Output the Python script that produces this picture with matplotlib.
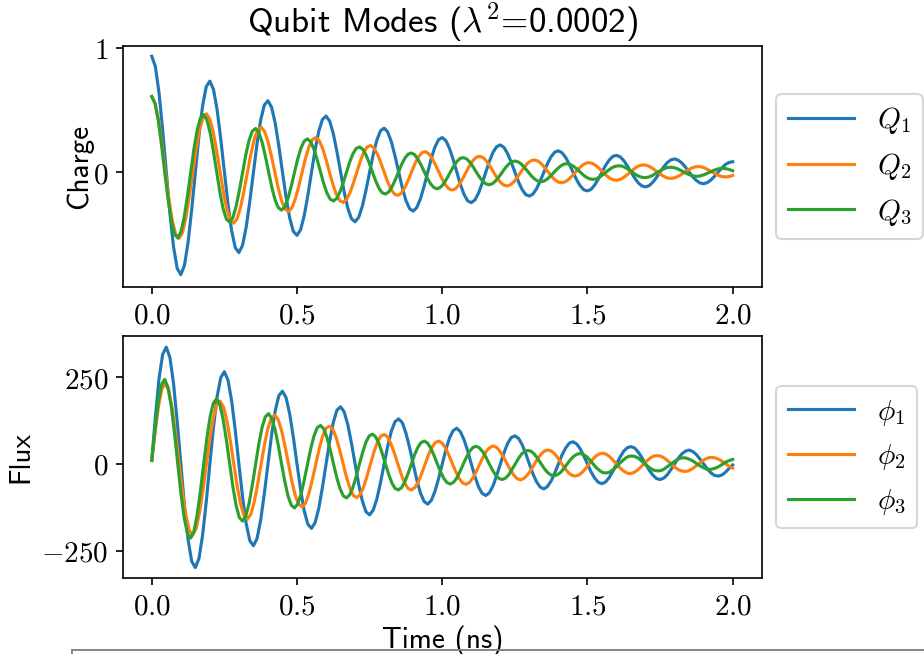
import numpy as np
import matplotlib as m
m.use('Agg')
import matplotlib.pyplot as plt
from matplotlib.ticker import FuncFormatter
from matplotlib.patches import Rectangle

charge_q1 = [
    0.935, 0.851, 0.641, 0.342, 0.0, -0.332, -0.604, -0.777, -0.828, -0.754, -0.568, -0.303, 0.0, 0.294, 0.535, 0.689,
    0.734, 0.668, 0.504, 0.268, 0.0, -0.260, -0.474, -0.610, -0.650, -0.592, -0.446, -0.238, 0.0, 0.231, 0.420, 0.541,
    0.576, 0.524, 0.395, 0.211, 0.0, -0.204, -0.372, -0.479, -0.511, -0.465, -0.350, -0.187, 0.0, 0.181, 0.330, 0.424,
    0.452, 0.412, 0.310, 0.165, 0.0, -0.161, -0.292, -0.376, -0.401, -0.365, -0.275, -0.147, 0.0, 0.142, 0.259, 0.333,
    0.355, 0.323, 0.244, 0.130, 0.0, -0.126, -0.229, -0.295, -0.315, -0.286, -0.216, -0.115, 0.0, 0.112, 0.203, 0.262,
    0.279, 0.254, 0.191, 0.102, 0.0, -0.099, -0.180, -0.232, -0.247, -0.225, -0.170, -0.090, 0.0, 0.088, 0.160, 0.205,
    0.219, 0.199, 0.150, 0.080, 0.0, -0.078, -0.141, -0.182, -0.194, -0.177, -0.133, -0.071, 0.0, 0.069, 0.125, 0.161,
    0.172, 0.156, 0.118, 0.063, 0.0, -0.061, -0.111, -0.143, -0.152, -0.139, -0.104, -0.056, 0.0, 0.054, 0.098, 0.127,
    0.135, 0.123, 0.093, 0.049, 0.0, -0.048, -0.087, -0.112, -0.120, -0.109, -0.082, -0.044, 0.0, 0.042, 0.077, 0.099,
    0.106, 0.096, 0.073, 0.039, 0.0, -0.038, -0.068, -0.088, -0.094, -0.085, -0.064, -0.034, 0.0, 0.033, 0.061, 0.078,
    0.083]

charge_q2 = [
    0.610, 0.554, 0.417, 0.222, 0.0, -0.215, -0.391, -0.503, -0.535, -0.487, -0.366, -0.195, 0.0, 0.189, 0.343, 0.441,
    0.470, 0.427, 0.322, 0.171, 0.0, -0.166, -0.301, -0.387, -0.412, -0.375, -0.282, -0.150, 0.0, 0.145, 0.264, 0.340,
    0.362, 0.329, 0.248, 0.132, 0.0, -0.128, -0.232, -0.298, -0.318, -0.289, -0.217, -0.116, 0.0, 0.112, 0.204, 0.262,
    0.279, 0.253, 0.191, 0.102, 0.0, -0.098, -0.179, -0.230, -0.245, -0.222, -0.167, -0.089, 0.0, 0.086, 0.157, 0.202,
    0.215, 0.195, 0.147, 0.078, 0.0, -0.076, -0.138, -0.177, -0.188, -0.171, -0.129, -0.069, 0.0, 0.066, 0.121, 0.155,
    0.165, 0.150, 0.113, 0.060, 0.0, -0.058, -0.106, -0.136, -0.145, -0.132, -0.099, -0.053, 0.0, 0.051, 0.093, 0.120,
    0.127, 0.116, 0.087, 0.046, 0.0, -0.045, -0.082, -0.105, -0.112, -0.102, -0.077, -0.041, 0.0, 0.039, 0.072, 0.092,
    0.098, 0.089, 0.067, 0.036, 0.0, -0.035, -0.063, -0.081, -0.086, -0.078, -0.059, -0.031, 0.0, 0.030, 0.055, 0.071,
    0.076, 0.069, 0.052, 0.028, 0.0, -0.027, -0.048, -0.062, -0.066, -0.060, -0.045, -0.024, 0.0, 0.023, 0.043, 0.055,
    0.058, 0.053, 0.040, 0.021, 0.0, -0.021, -0.037, -0.048, -0.051, -0.046, -0.035, -0.019, 0.0, 0.018, 0.033, 0.042,
    0.045, 0.041, 0.031, 0.016, 0.0, -0.016, -0.029, -0.037, -0.039, -0.036, -0.027]

charge_q3 = [
    0.610, 0.554, 0.417, 0.222, 0.0, -0.214, -0.389, -0.500, -0.532, -0.483, -0.363, -0.193, 0.0, 0.187, 0.339, 0.436,
    0.463, 0.421, 0.317, 0.168, 0.0, -0.163, -0.296, -0.380, -0.404, -0.367, -0.276, -0.147, 0.0, 0.142, 0.258, 0.331,
    0.352, 0.320, 0.241, 0.128, 0.0, -0.124, -0.225, -0.288, -0.307, -0.279, -0.210, -0.112, 0.0, 0.108, 0.196, 0.251,
    0.268, 0.243, 0.183, 0.097, 0.0, -0.094, -0.171, -0.219, -0.233, -0.212, -0.159, -0.085, 0.0, 0.082, 0.149, 0.191,
    0.203, 0.185, 0.139, 0.074, 0.0, -0.071, -0.130, -0.167, -0.177, -0.161, -0.121, -0.064, 0.0, 0.062, 0.113, 0.145,
    0.154, 0.140, 0.105, 0.056, 0.0, -0.054, -0.098, -0.126, -0.135, -0.122, -0.092, -0.049, 0.0, 0.047, 0.086, 0.110,
    0.117, 0.107, 0.080, 0.043, 0.0, -0.041, -0.075, -0.096, -0.102, -0.093, -0.070, -0.037, 0.0, 0.036, 0.065, 0.084,
    0.089, 0.081, 0.061, 0.032, 0.0, -0.031, -0.057, -0.073, -0.078, -0.071, -0.053, -0.028, 0.0, 0.027, 0.050, 0.064,
    0.068, 0.061, 0.046, 0.025, 0.0, -0.024, -0.043, -0.055, -0.059, -0.054, -0.040, -0.021, 0.0, 0.021, 0.038, 0.048,
    0.051, 0.047, 0.035, 0.019, 0.0, -0.018, -0.033, -0.042, -0.045, -0.041, -0.031, -0.016, 0.0, 0.016, 0.029, 0.037,
    0.039, 0.035, 0.027, 0.014, 0.0, -0.014, -0.025, -0.032, -0.034, -0.031, -0.023, -0.012, 0.0, 0.012, 0.022, 0.028,
    0.030, 0.027, 0.020, 0.011]

flux_phi1 = [
    10, 135, 246, 316, 337, 307, 232, 123, 0, -120, -218, -281, -299, -273, -206, -110,
    0, 106, 194, 249, 266, 242, 182, 97, 0, -94, -172, -221, -236, -215, -162, -86,
    0, 84, 153, 197, 210, 191, 144, 77, 0, -74, -136, -174, -186, -169, -128, -68,
    0, 66, 120, 155, 165, 150, 113, 60, 0, -59, -107, -138, -147, -133, -101, -54,
    0, 52, 95, 122, 130, 119, 89, 48, 0, -46, -84, -108, -116, -105, -79, -42,
    0, 41, 75, 96, 103, 93, 70, 38, 0, -36, -66, -85, -91, -83, -63, -33,
    0, 32, 59, 76, 81, 74, 56, 30, 0, -29, -52, -67, -72, -65, -49, -26,
    0, 26, 46, 60, 64, 58, 44, 23, 0, -23, -41, -53, -57, -52, -39, -21,
    0, 20, 37, 47, 50, 46, 34, 18, 0, -18, -32, -42, -45, -41, -31, -16,
    0, 16, 29, 37, 40, 36, 27, 14, 0, -14, -26, -33, -35, -32, -24, -13,
    -3]

flux_phi2 = [
    10, 93, 169, 218, 232, 211, 159, 85, 0, -82, -149, -192, -205, -186, -140, -75,
    0, 72, 132, 170, 181, 164, 124, 66, 0, -64, -116, -150, -159, -145, -109, -58,
    0, 56, 103, 132, 141, 128, 96, 51, 0, -50, -91, -116, -124, -113, -85, -45,
    0, 44, 80, 103, 109, 100, 75, 40, 0, -39, -70, -91, -97, -88, -66, -35,
    0, 34, 62, 80, 85, 78, 58, 31, 0, -30, -55, -71, -75, -68, -52, -27,
    0, 27, 48, 62, 66, 60, 45, 24, 0, -23, -43, -55, -59, -53, -40, -21,
    0, 21, 38, 48, 52, 47, 35, 19, 0, -18, -33, -43, -46, -41, -31, -17,
    0, 16, 29, 38, 40, 37, 28, 15, 0, -14, -26, -33, -35, -32, -24, -13,
    0, 13, 23, 29, 31, 28, 21, 11, 0, -11, -20, -26, -28, -25, -19, -10,
    0, 10, 18, 23, 24, 22, 17, 9, 0, -9, -16, -20, -22, -20, -15, -8,
    0, 8, 14, 18, 19, 17, 13, 7, 0, -7, -12]

flux_phi3 = [
    10, 98, 178, 229, 244, 221, 167, 89, 0, -86, -156, -201, -214, -194, -146, -78,
    0, 75, 137, 176, 188, 171, 128, 68, 0, -66, -120, -155, -165, -150, -113, -60,
    0, 58, 106, 136, 145, 131, 99, 53, 0, -51, -93, -119, -127, -115, -87, -46,
    0, 45, 81, 105, 111, 101, 76, 41, 0, -39, -71, -92, -98, -89, -67, -36,
    0, 34, 63, 81, 86, 78, 59, 31, 0, -30, -55, -71, -75, -68, -51, -27,
    0, 27, 48, 62, 66, 60, 45, 24, 0, -23, -42, -54, -58, -53, -40, -21,
    0, 20, 37, 48, 51, 46, 35, 19, 0, -18, -33, -42, -45, -41, -31, -16,
    0, 16, 29, 37, 39, 36, 27, 14, 0, -14, -25, -32, -34, -31, -24, -13,
    0, 12, 22, 28, 30, 27, 21, 11, 0, -11, -19, -25, -26, -24, -18, -10,
    0, 9, 17, 22, 23, 21, 16, 8, 0, -8, -15, -19, -20, -19, -14, -7,
    0, 7, 13, 17, 18, 16, 12, 7, 0, -6, -11, -15, -16, -14, -11, -6,
    0, 6, 10, 13]

# every series is evenly spaced from 0 to 2 ns
time_mode1 = np.linspace(0.0, 2.0, len(charge_q1))
time_mode2 = np.linspace(0.0, 2.0, len(charge_q2))
time_mode3 = np.linspace(0.0, 2.0, len(charge_q3))

x_ticks = [0.0, 0.5, 1.0, 1.5, 2.0]
charge_ticks = [0, 1]
flux_ticks = [-250, 0, 250]


def main():
  plt.rcParams['mathtext.fontset'] = 'cm'
  plt.rcParams['font.size'] = 14
  sans = 'cmss10'   # computer modern sans for the words

  fig = plt.figure(figsize=(6.16, 4.36), dpi=150)
  axQ = fig.add_axes([0.1328, 0.5607, 0.6916, 0.3694])
  axF = fig.add_axes([0.1328, 0.1157, 0.6916, 0.3705])

  axQ.plot(time_mode1, charge_q1, label=r'$Q_1$')
  axQ.plot(time_mode2, charge_q2, label=r'$Q_2$')
  axQ.plot(time_mode3, charge_q3, label=r'$Q_3$')

  axF.plot(time_mode1, flux_phi1, label=r'$\phi_1$')
  axF.plot(time_mode2, flux_phi2, label=r'$\phi_2$')
  axF.plot(time_mode3, flux_phi3, label=r'$\phi_3$')

  axQ.set_ylim(-0.93, 1.02)
  axF.set_ylim(-330, 369)
  axQ.set_yticks(charge_ticks)
  axF.set_yticks(flux_ticks)

  fmt = FuncFormatter(lambda v, pos: r'$%g$' % v)
  for ax in (axQ, axF):
    ax.set_xlim(-0.1, 2.1)
    ax.set_xticks(x_ticks)
    ax.xaxis.set_major_formatter(FuncFormatter(lambda v, pos: r'$%.1f$' % v))
    ax.yaxis.set_major_formatter(fmt)
    ax.legend(loc='center left', bbox_to_anchor=(1.0, 0.5), handlelength=2.25)

  axQ.set_title(r'Qubit Modes ($\lambda^2$=0.0002)', family=sans)
  axQ.set_ylabel('Charge', family=sans, labelpad=0)
  axF.set_ylabel('Flux', family=sans, labelpad=3)
  axF.set_xlabel('Time (ns)', family=sans, labelpad=2)

  # top edge of the next (cut off) box at the bottom of the page
  fig.patches.append(Rectangle((72 / 924.0, -0.5), 1.0, 0.5 + 4.5 / 654, transform=fig.transFigure,
                               fill=False, edgecolor='0.5', lw=0.9))

  fig.savefig('out.png', dpi=150)


if __name__ == '__main__':
  main()
